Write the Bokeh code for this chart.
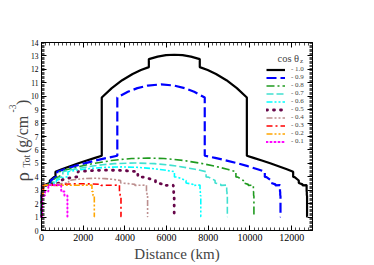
import math
from bokeh.plotting import figure
from bokeh.models import Range1d, LinearAxis, FixedTicker, Label, Legend, LegendItem
from bokeh.embed import file_html
from bokeh.resources import INLINE

# ---------------- data (distance in km, density in g/cm^3) ----------------
legend_labels = ["- 1.0", "- 0.9", "- 0.8", "- 0.7", "- 0.6", "- 0.5", "- 0.4", "- 0.3", "- 0.2", "- 0.1"]

dist_10 = [0, 3, 3, 15, 15, 24.4, 24.4, 220, 220, 400, 400, 600, 670, 670, 971, 1371, 1771, 2171, 2571, 2891, 2891,
           3371, 3871, 4371, 4771, 5149.5, 5149.5, 5571, 5971, 6371, 6771, 7171, 7592.5, 7592.5, 7971, 8371, 8871,
           9371, 9851, 9851, 10171, 10571, 10971, 11371, 11771, 12072, 12072, 12142, 12342, 12342, 12522, 12522,
           12717.6, 12717.6, 12727, 12727, 12739, 12739, 12742]
rho_10 = [1.02, 1.02, 2.6, 2.6, 2.9, 2.9, 3.381, 3.360, 3.436, 3.543, 3.724, 3.976, 3.992, 4.381, 4.563, 4.790, 5.003,
          5.207, 5.407, 5.566, 9.904, 10.602, 11.191, 11.655, 11.947, 12.166, 12.764, 12.949, 13.054, 13.089, 13.054,
          12.949, 12.764, 12.166, 11.947, 11.655, 11.191, 10.602, 9.904, 5.566, 5.407, 5.207, 5.003, 4.790, 4.563,
          4.381, 3.992, 3.976, 3.724, 3.543, 3.436, 3.360, 3.381, 2.9, 2.9, 2.6, 2.6, 1.02, 1.02]

dist_09 = [0, 3.3, 3.3, 16.7, 16.7, 27.1, 27.1, 245.5, 245.5, 448, 448, 675, 755, 755, 1102.7, 1576, 2066.7, 2583,
           3140.1, 3636.7, 3636.7, 4143.9, 4599, 5093.2, 5733.9, 6374.6, 6868.8, 7323.9, 7831.1, 7831.1, 8327.7,
           8884.8, 9401.1, 9891.8, 10365.1, 10712.8, 10712.8, 10792.8, 11019.8, 11019.8, 11222.3, 11222.3, 11440.7,
           11440.7, 11451.1, 11451.1, 11464.5, 11464.5, 11467.8]
rho_09 = [1.02, 1.02, 2.6, 2.6, 2.9, 2.9, 3.381, 3.360, 3.436, 3.543, 3.724, 3.976, 3.992, 4.381, 4.563, 4.790, 5.003,
          5.207, 5.407, 5.566, 9.904, 10.327, 10.602, 10.792, 10.881, 10.792, 10.602, 10.327, 9.904, 5.566, 5.407,
          5.207, 5.003, 4.790, 4.563, 4.381, 3.992, 3.976, 3.724, 3.543, 3.436, 3.360, 3.381, 2.9, 2.9, 2.6, 2.6,
          1.02, 1.02]

dist_08 = [0, 3.8, 3.8, 18.8, 18.8, 30.6, 30.6, 277.8, 277.8, 509.8, 509.8, 773.4, 867.2, 867.2, 1282.6, 1873.8,
           2537.9, 3356.8, 3918.8, 4323.7, 5096.8, 5869.9, 6274.8, 6836.8, 7655.7, 8319.8, 8911, 9326.4, 9326.4,
           9420.2, 9683.8, 9683.8, 9915.8, 9915.8, 10163, 10163, 10174.8, 10174.8, 10189.8, 10189.8, 10193.6]
rho_08 = [1.02, 1.02, 2.6, 2.6, 2.9, 2.9, 3.381, 3.360, 3.436, 3.543, 3.724, 3.976, 3.992, 4.381, 4.563, 4.790, 5.003,
          5.207, 5.307, 5.357, 5.396, 5.357, 5.307, 5.207, 5.003, 4.790, 4.563, 4.381, 3.992, 3.976, 3.724, 3.543,
          3.436, 3.360, 3.381, 2.9, 2.9, 2.6, 2.6, 1.02, 1.02]

dist_07 = [0, 4.3, 4.3, 21.5, 21.5, 34.9, 34.9, 320.4, 320.4, 592.9, 592.9, 909.5, 1024.5, 1024.5, 1551.2, 2386.2,
           2930.2, 3499.6, 4459.7, 5419.8, 5989.2, 6533.2, 7368.2, 7894.9, 7894.9, 8009.9, 8326.5, 8326.5, 8599, 8599,
           8884.5, 8884.5, 8897.9, 8897.9, 8915.1, 8915.1, 8919.4]
rho_07 = [1.02, 1.02, 2.6, 2.6, 2.9, 2.9, 3.381, 3.360, 3.436, 3.543, 3.724, 3.976, 3.992, 4.381, 4.563, 4.790, 4.898,
          4.977, 5.029, 4.977, 4.898, 4.790, 4.563, 4.381, 3.992, 3.976, 3.724, 3.543, 3.436, 3.360, 3.381, 2.9, 2.9,
          2.6, 2.6, 1.02, 1.02]

dist_06 = [0, 5, 5, 25.1, 25.1, 40.8, 40.8, 379.1, 379.1, 712.1, 712.1, 1115.7, 1268.4, 1268.4, 1755.6, 2369.1,
           3084.3, 3822.6, 4560.9, 5276.1, 5889.6, 6376.8, 6376.8, 6529.5, 6933.1, 6933.1, 7266.1, 7266.1, 7604.4,
           7604.4, 7620.1, 7620.1, 7640.2, 7640.2, 7645.2]
rho_06 = [1.02, 1.02, 2.6, 2.6, 2.9, 2.9, 3.381, 3.360, 3.436, 3.543, 3.724, 3.976, 3.992, 4.381, 4.504, 4.621, 4.707,
          4.736, 4.707, 4.621, 4.504, 4.381, 3.992, 3.976, 3.724, 3.543, 3.436, 3.360, 3.381, 2.9, 2.9, 2.6, 2.6,
          1.02, 1.02]

dist_05 = [0, 6, 6, 30.1, 30.1, 49.1, 49.1, 466.6, 466.6, 902.8, 902.8, 1178.9, 1493.7, 1750.5, 1750.5, 2227.5,
           2686.1, 3185.5, 3684.9, 4143.5, 4620.5, 4620.5, 4877.3, 5192.1, 5468.2, 5468.2, 5904.4, 5904.4, 6321.9,
           6321.9, 6340.9, 6340.9, 6365, 6365, 6371]
rho_05 = [1.02, 1.02, 2.6, 2.6, 2.9, 2.9, 3.381, 3.360, 3.436, 3.543, 3.724, 3.850, 3.976, 3.992, 4.381, 4.443, 4.480,
          4.493, 4.480, 4.443, 4.381, 3.992, 3.976, 3.850, 3.724, 3.543, 3.436, 3.360, 3.381, 2.9, 2.9, 2.6, 2.6,
          1.02, 1.02]

dist_04 = [0, 7.5, 7.5, 37.7, 37.7, 61.6, 61.6, 319.7, 614.6, 614.6, 927.2, 1300.4, 1300.4, 1703, 2054.1, 2548.4,
           3042.7, 3393.8, 3796.4, 3796.4, 4169.6, 4482.2, 4482.2, 4777.1, 5035.2, 5035.2, 5059.1, 5059.1, 5089.3,
           5089.3, 5096.8]
rho_04 = [1.02, 1.02, 2.6, 2.6, 2.9, 2.9, 3.381, 3.370, 3.360, 3.436, 3.490, 3.543, 3.724, 3.813, 3.864, 3.890, 3.864,
          3.813, 3.724, 3.543, 3.490, 3.436, 3.360, 3.370, 3.381, 2.9, 2.9, 2.6, 2.6, 1.02, 1.02]

dist_03 = [0, 10, 10, 50.6, 50.6, 83, 83, 453.2, 963.5, 963.5, 1388.4, 1911.3, 2434.2, 2859.1, 2859.1, 3369.4,
           3739.6, 3739.6, 3772, 3772, 3812.6, 3812.6, 3822.6]
rho_03 = [1.02, 1.02, 2.6, 2.6, 2.9, 2.9, 3.381, 3.370, 3.360, 3.436, 3.466, 3.480, 3.466, 3.436, 3.360, 3.370, 3.381,
          2.9, 2.9, 2.6, 2.6, 1.02, 1.02]

dist_02 = [0, 15.1, 15.1, 77.2, 77.2, 128.2, 128.2, 423.3, 1274.2, 2125.1, 2420.2, 2420.2, 2471.2, 2471.2, 2533.3,
           2533.3, 2548.4]
rho_02 = [1.02, 1.02, 2.6, 2.6, 2.9, 2.9, 3.381, 3.376, 3.369, 3.376, 3.381, 2.9, 2.9, 2.6, 2.6, 1.02, 1.02]

dist_01 = [0, 30.7, 30.7, 173.4, 173.4, 327.9, 327.9, 637.1, 946.3, 946.3, 1100.8, 1100.8, 1243.5, 1243.5, 1274.2]
rho_01 = [1.02, 1.02, 2.6, 2.6, 2.9, 2.9, 3.381, 3.380, 3.381, 2.9, 2.9, 2.6, 2.6, 1.02, 1.02]

x_major_ticks = [0, 2000, 4000, 6000, 8000, 10000, 12000]
y_major_ticks = [0, 1, 2, 3, 4, 5, 6, 7, 8, 9, 10, 11, 12, 13, 14]
x_limits = (0, 13000)
y_limits = (0, 14)

# ---------------- styles ----------------
series = [
    (dist_10, rho_10, "#000000", 2.2, "solid", "butt"),
    (dist_09, rho_09, "#0000ff", 2.2, "10 4", "butt"),
    (dist_08, rho_08, "#1f9a1f", 1.6, "8 3 2 3", "butt"),
    (dist_07, rho_07, "#40e0d0", 1.6, "7 3", "butt"),
    (dist_06, rho_06, "#00ffff", 1.6, "6 2 2 2 2 2", "butt"),
    (dist_05, rho_05, "#67074a", 2.8, "1 6", "round"),
    (dist_04, rho_04, "#bc8f8f", 1.6, "6 2 2 2 2 2", "butt"),
    (dist_03, rho_03, "#ff0000", 1.6, "6 3 2 3", "butt"),
    (dist_02, rho_02, "#ffa500", 1.6, "6 2 2 2 2 2", "butt"),
    (dist_01, rho_01, "#ff00ff", 2.0, "1 3", "round"),
]

SERIF = "Liberation Serif"

# canvas and the box (in canvas pixels) where the axes are drawn
W, H = 366, 262
BOX_L, BOX_R, BOX_T, BOX_B = 41, 312, 42, 230
sx = (x_limits[1] - x_limits[0]) / (BOX_R - BOX_L)
sy = (y_limits[1] - y_limits[0]) / (BOX_B - BOX_T)
xr = Range1d(x_limits[0] - BOX_L * sx, x_limits[1] + (W - BOX_R) * sx)
yr = Range1d(y_limits[0] - (H - BOX_B) * sy, y_limits[1] + BOX_T * sy)

p = figure(width=W, height=H, output_backend="svg", toolbar_location=None,
           x_range=xr, y_range=yr, min_border=0,
           min_border_left=0, min_border_right=0, min_border_top=0, min_border_bottom=0,
           x_axis_location=None, y_axis_location=None)
p.xgrid.visible = False
p.ygrid.visible = False
p.outline_line_color = None
p.background_fill_color = "white"
p.border_fill_color = "white"

x_minor = [i * 200 for i in range(66)]
y_minor = [i / 10 for i in range(141)]

def make_axis(ticks, minor, loc, bounds, show_labels, size):
    ax = LinearAxis(ticker=FixedTicker(ticks=ticks, minor_ticks=minor), fixed_location=loc, bounds=bounds)
    ax.axis_line_color = "black"
    ax.axis_line_width = 1
    ax.major_tick_in = 5
    ax.major_tick_out = 0
    ax.minor_tick_in = 3
    ax.minor_tick_out = 0
    ax.major_tick_line_color = "black"
    ax.minor_tick_line_color = "black"
    ax.minor_tick_line_width = 0.7
    ax.major_label_standoff = 3
    ax.major_label_text_font = SERIF
    ax.major_label_text_font_size = size
    ax.major_label_text_color = "black" if show_labels else None
    return ax

p.add_layout(make_axis(x_major_ticks, x_minor, y_limits[0], x_limits, True, "10px"), "below")
p.add_layout(make_axis(x_major_ticks, x_minor, y_limits[1], x_limits, False, "10px"), "above")
p.add_layout(make_axis(y_major_ticks, y_minor, x_limits[0], y_limits, True, "7.5px"), "left")
p.add_layout(make_axis(y_major_ticks, y_minor, x_limits[1], y_limits, False, "7.5px"), "right")

items = []
for (xs, ys, col, w, dash, cap), lab in zip(series, legend_labels):
    r = p.line(xs, ys, line_color=col, line_width=w, line_dash=dash, line_cap=cap)
    items.append(LegendItem(label=lab, renderers=[r]))

# legend: bottom-left corner given in pixels from the canvas bottom-left
legend = Legend(items=items, location=(266, H - 145), orientation="vertical",
                label_text_font=SERIF, label_text_font_size="7px",
                glyph_width=19, glyph_height=7, label_height=7, label_standoff=6,
                spacing=-2, padding=2, margin=0,
                border_line_color=None, background_fill_alpha=0)
p.add_layout(legend)

def canvas_label(text, x, y, size, angle=0.0, align="left"):
    p.add_layout(Label(x=x, y=y, x_units="canvas", y_units="canvas", text=text, angle=angle,
                       text_font=SERIF, text_font_size=size, text_align=align,
                       text_baseline="alphabetic"))

# legend title: cos θ_z
canvas_label("cos θ", 277, 57.5, "10.5px")
canvas_label("z", 299.5, 60.5, "7px")

# x axis title
canvas_label("Distance (km)", 176.5, 253, "15px", align="center")

# y axis title: ρ_Tot (g/cm^-3)
ang = math.pi / 2
canvas_label("ρ", 22, 181, "19px", ang)
canvas_label("Tot", 26, 167, "9.5px", ang)
canvas_label("(g/cm", 22, 152.5, "16px", ang)
canvas_label("-3", 12, 112, "9.5px", ang)
canvas_label(")", 22, 104.5, "16px", ang)

open("out.html", "w").write(file_html(p, INLINE))
